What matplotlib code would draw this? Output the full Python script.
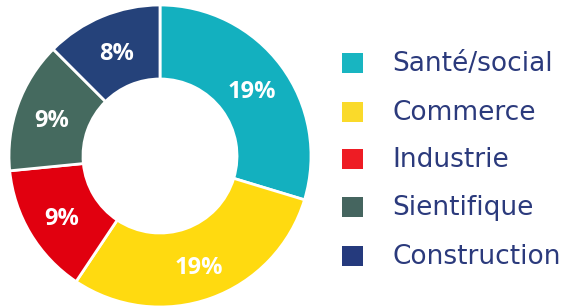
import matplotlib.pyplot as plt
from matplotlib.patches import Rectangle
from matplotlib.transforms import offset_copy

# donut data
categories = ['Santé/social', 'Commerce', 'Industrie', 'Sientifique', 'Construction']
values = [19, 19, 9, 9, 8]
labels = ['19%', '19%', '9%', '9%', '8%']
colors = ['#13B0BF', '#FFDA10', '#E1000F', '#456A5F', '#25427A']
legend_colors = ['#18B5C1', '#FADA2A', '#EE1C24', '#45655F', '#253A7D']

fig = plt.figure(figsize=(5.64, 3.07), dpi=100)

W, H = 564, 307
cx, cy, r = 160, 156, 151
ax = fig.add_axes([(cx - r) / W, (H - cy - r) / H, 2 * r / W, 2 * r / H])

wedges, texts = ax.pie(values, colors=colors, startangle=90, counterclock=False,
                       radius=1, labels=labels, labeldistance=0.76,
                       wedgeprops=dict(width=0.49, edgecolor='white', linewidth=2))
for t in texts:
    t.set_color('white')
    t.set_fontsize(17)
    t.set_fontweight('bold')
    t.set_family('Open Sans')
    t.set_horizontalalignment('center')
    t.set_verticalalignment('center')
    # nudge down a little, like the original
    t.set_transform(offset_copy(t.get_transform(), fig=fig, y=-4, units='dots'))
ax.set_xlim(-1, 1)
ax.set_ylim(-1, 1)
ax.set_aspect('equal')
ax.axis('off')

# legend drawn by hand
rows_y = [63, 112, 159, 207, 256]
for cat, col, y in zip(categories, legend_colors, rows_y):
    fig.patches.append(Rectangle((342 / W, (H - y - 10) / H), 21 / W, 20 / H,
                                 transform=fig.transFigure, facecolor=col, edgecolor='none'))
    fig.text(392 / W, (H - y - 1) / H, cat, fontsize=19, color='#2B3A7C',
             family='DejaVu Sans', va='center', ha='left')

fig.savefig('out.png', dpi=100)
